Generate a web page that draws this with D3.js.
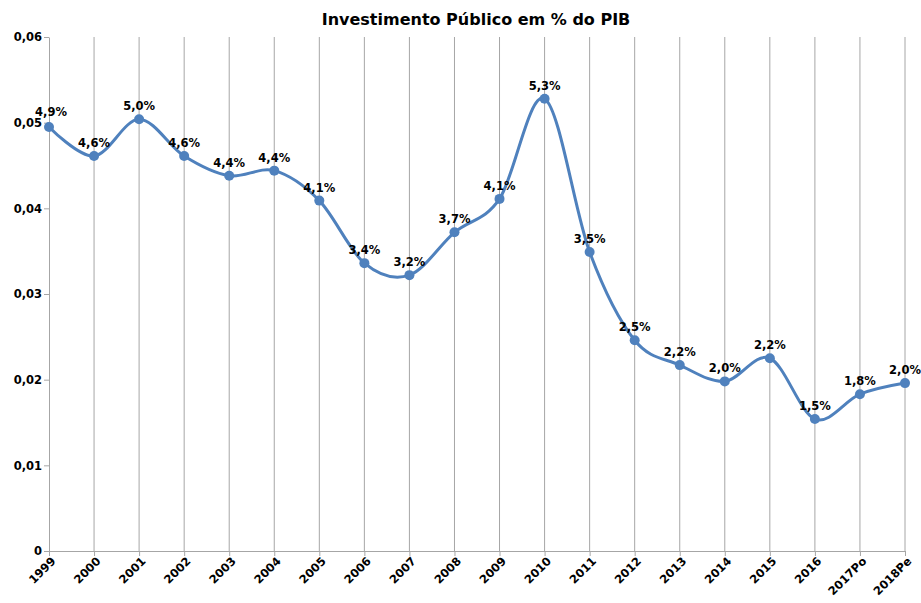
<!DOCTYPE html>
<html>
<head>
<meta charset="utf-8">
<script src="https://cdn.jsdelivr.net/npm/d3@7"></script>
<style>
  body { margin: 0; background: #fff; }
  text { font-family: "DejaVu Sans", sans-serif; font-weight: bold; }
</style>
</head>
<body>
<div id="chart"></div>
<script>
var anos = ["1999", "2000", "2001", "2002", "2003", "2004", "2005", "2006", "2007", "2008",
            "2009", "2010", "2011", "2012", "2013", "2014", "2015", "2016", "2017Po", "2018Pe"];
var valores = [0.0495, 0.0461, 0.0504, 0.0461, 0.0438, 0.0444, 0.0409, 0.0336, 0.0322, 0.0372,
               0.0411, 0.0528, 0.0349, 0.0246, 0.0217, 0.0198, 0.0225, 0.0154, 0.0183, 0.0196];
var rotulos = ["4,9%", "4,6%", "5,0%", "4,6%", "4,4%", "4,4%", "4,1%", "3,4%", "3,2%", "3,7%",
               "4,1%", "5,3%", "3,5%", "2,5%", "2,2%", "2,0%", "2,2%", "1,5%", "1,8%", "2,0%"];
var yTicks = [0, 0.01, 0.02, 0.03, 0.04, 0.05, 0.06];

var margin = {top: 37, right: 15, bottom: 52, left: 49},
    width = 921 - margin.left - margin.right,
    height = 603 - margin.top - margin.bottom;

var root = d3.select("#chart")
  .append("svg")
    .attr("width", 921)
    .attr("height", 603);

root.append("text")
  .attr("x", 476)
  .attr("y", 25)
  .attr("text-anchor", "middle")
  .style("font-size", "16px")
  .text("Investimento Público em % do PIB");

var svg = root.append("g")
  .attr("transform", "translate(" + margin.left + "," + margin.top + ")");

var x = d3.scalePoint()
  .domain(anos)
  .range([0, width - 1]);

var y = d3.scaleLinear()
  .domain([0, 0.06])
  .range([height, 0]);

// linhas verticais de grade
svg.append("g")
  .selectAll("line")
  .data(anos.slice(1))
  .enter()
  .append("line")
    .attr("x1", function(d) { return x(d); })
    .attr("x2", function(d) { return x(d); })
    .attr("y1", 0)
    .attr("y2", height)
    .attr("stroke", "#a6a6a6")
    .attr("stroke-width", 1);

var xAxis = svg.append("g")
  .attr("transform", "translate(0," + height + ")")
  .call(d3.axisBottom(x).tickSize(5).tickSizeOuter(0));
xAxis.select(".domain").attr("stroke", "#a6a6a6");
xAxis.selectAll(".tick line").attr("stroke", "#a6a6a6");
xAxis.selectAll("text")
  .style("font-size", "11.5px")
  .style("fill", "#000")
  .attr("text-anchor", "end")
  .attr("dy", "0.35em")
  .attr("transform", "translate(4,8) rotate(-45)")
  .attr("x", 0)
  .attr("y", 0);

var yAxis = svg.append("g")
  .call(d3.axisLeft(y).tickValues(yTicks).tickSize(5).tickSizeOuter(0)
    .tickFormat(function(d) { return d === 0 ? "0" : d3.format(".2f")(d).replace(".", ","); }));
yAxis.select(".domain").attr("stroke", "#a6a6a6");
yAxis.selectAll(".tick line").attr("stroke", "#a6a6a6");
yAxis.selectAll("text")
  .style("font-size", "11.5px")
  .style("fill", "#000")
  .attr("x", -7);

var dados = anos.map(function(a, i) { return {ano: a, v: valores[i], r: rotulos[i]}; });

var linha = d3.line()
  .x(function(d) { return x(d.ano); })
  .y(function(d) { return y(d.v); })
  .curve(d3.curveCardinal.tension(0));

svg.append("path")
  .datum(dados)
  .attr("d", linha)
  .attr("fill", "none")
  .attr("stroke", "#4f81bd")
  .attr("stroke-width", 3);

svg.selectAll("circle.pt")
  .data(dados)
  .enter()
  .append("circle")
    .attr("class", "pt")
    .attr("cx", function(d) { return x(d.ano); })
    .attr("cy", function(d) { return y(d.v); })
    .attr("r", 5)
    .attr("fill", "#4f81bd");

svg.selectAll("text.rot")
  .data(dados)
  .enter()
  .append("text")
    .attr("class", "rot")
    .attr("x", function(d, i) { return x(d.ano) + (i === 0 ? 2 : 0); })
    .attr("y", function(d, i) { return y(d.v) - (i === 0 ? 11 : 9); })
    .attr("text-anchor", "middle")
    .style("font-size", "11.5px")
    .text(function(d) { return d.r; });
</script>
</body>
</html>
